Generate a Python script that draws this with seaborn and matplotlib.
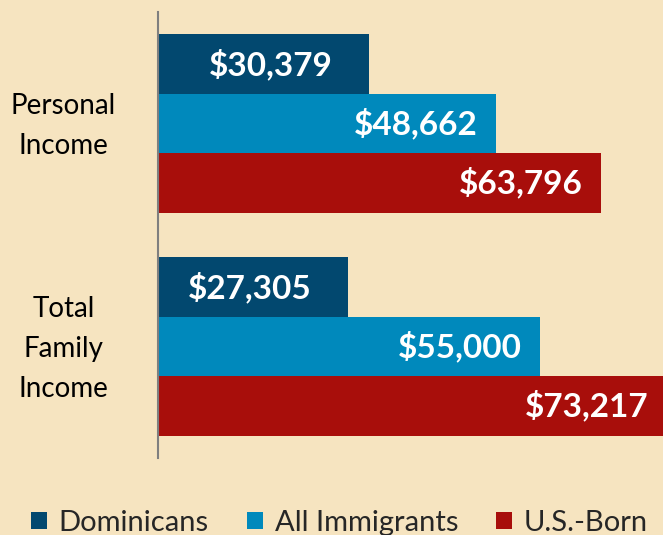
import matplotlib
matplotlib.use("Agg")
import matplotlib.pyplot as plt
import matplotlib.transforms as mtransforms
import seaborn as sns
import pandas as pd
from matplotlib.patches import Patch

categories = ["Personal\nIncome", "Total\nFamily\nIncome"]
groups = ["Dominicans", "All Immigrants", "U.S.-Born"]
dominicans = [30379, 27305]
all_immigrants = [48662, 55000]
us_born = [63796, 73217]
colors = ["#02486F", "#0089BC", "#A80E0B"]
bg = "#F6E4C0"

rows = []
for g, vals in zip(groups, [dominicans, all_immigrants, us_born]):
    for c, v in zip(categories, vals):
        rows.append({"category": c, "group": g, "value": v})
df = pd.DataFrame(rows)

sns.set_theme(style="white")
plt.rcParams["font.family"] = ["Lato", "DejaVu Sans"]

fig = plt.figure(figsize=(6.63, 5.35), dpi=100, facecolor=bg)
ax = fig.add_axes([158 / 663, (535 - 458) / 535, (663 - 158) / 663, 446 / 535])
ax.set_facecolor(bg)

sns.barplot(data=df, y="category", x="value", hue="group", order=categories,
            hue_order=groups, palette=colors, orient="h", width=0.8,
            saturation=1, linewidth=0, ax=ax, legend=False)

ax.set_xlim(0, 72700)
ax.set_ylim(1.5, -0.5)
ax.set_xlabel("")
ax.set_ylabel("")
ax.set_xticks([])
for s in ["top", "right", "bottom"]:
    ax.spines[s].set_visible(False)
ax.spines["left"].set_color("#7F7F7F")
ax.spines["left"].set_linewidth(1.5)
ax.set_yticks(range(len(categories)))
ax.set_yticklabels(categories, fontsize=20, color="black", ha="center",
                   multialignment="center", linespacing=1.65)
ax.tick_params(axis="y", length=0, pad=68)
shift = mtransforms.ScaledTranslation(0, 5 / 72, fig.dpi_scale_trans)
for t in ax.get_yticklabels():
    t.set_transform(t.get_transform() + shift)

pads = [-26, -13, -13]
for cont, p in zip(ax.containers, pads):
    for bar, v in zip(cont.patches, cont.datavalues):
        ax.annotate(f"${v:,.0f}", xy=(bar.get_width(), bar.get_y() + bar.get_height() / 2),
                    xytext=(p, 0), textcoords="offset points", ha="right", va="center",
                    color="white", fontsize=24, fontweight="bold", annotation_clip=False)

handles = [Patch(facecolor=c, edgecolor="none") for c in colors]
fig.legend(handles, groups, loc="center", bbox_to_anchor=(0.512, 1 - 523 / 535),
           ncol=3, frameon=False, fontsize=21, handlelength=0.55, handleheight=0.55,
           handletextpad=0.4, columnspacing=1.3, borderpad=0)

fig.savefig("out.png", dpi=100, facecolor=bg)
